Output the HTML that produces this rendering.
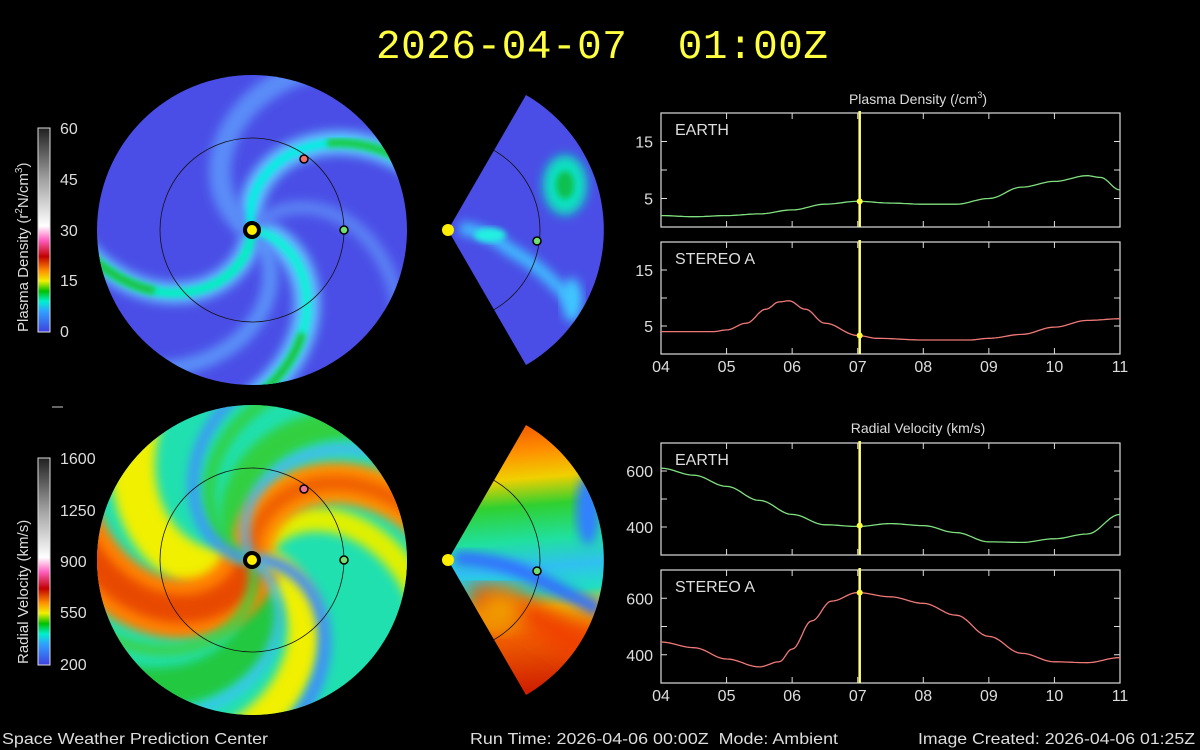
<!DOCTYPE html>
<html><head><meta charset="utf-8">
<style>
html,body{margin:0;padding:0;background:#000;width:1200px;height:750px;overflow:hidden;}
body{position:relative;font-family:"Liberation Sans",sans-serif;color:#ddd;}
svg{position:absolute;left:0;top:0;display:block;}
text{white-space:pre;}
</style></head>
<body>
<svg id="s" width="1200" height="750" viewBox="0 0 1200 750" xmlns="http://www.w3.org/2000/svg">
<defs>
  <filter id="b6" x="-20%" y="-20%" width="140%" height="140%"><feGaussianBlur stdDeviation="5"/></filter>
  <filter id="b3" x="-20%" y="-20%" width="140%" height="140%"><feGaussianBlur stdDeviation="3"/></filter>
  <filter id="b10" x="-30%" y="-30%" width="160%" height="160%"><feGaussianBlur stdDeviation="10"/></filter>
  <clipPath id="c1"><circle cx="252" cy="230" r="155"/></clipPath>
  <clipPath id="c2"><circle cx="252" cy="560" r="155"/></clipPath>
  <clipPath id="w1"><path d="M448,230 L526,95 A156,156 0 0 1 526,365 Z"/></clipPath>
  <clipPath id="w2"><path d="M448,560 L526,425 A156,156 0 0 1 526,695 Z"/></clipPath>
  <linearGradient id="cbd" x1="0" y1="1" x2="0" y2="0">
    <stop offset="0" stop-color="#4040e0"/><stop offset="0.1" stop-color="#30a0ff"/>
    <stop offset="0.15" stop-color="#00f0d0"/><stop offset="0.2" stop-color="#00c000"/>
    <stop offset="0.25" stop-color="#f0f000"/><stop offset="0.3" stop-color="#ff9000"/>
    <stop offset="0.37" stop-color="#c00000"/><stop offset="0.45" stop-color="#ff60c0"/>
    <stop offset="0.52" stop-color="#ffffff"/><stop offset="0.75" stop-color="#a0a0a0"/>
    <stop offset="1" stop-color="#202020"/>
  </linearGradient>
  <linearGradient id="wv" gradientUnits="userSpaceOnUse" x1="448" y1="425" x2="470" y2="695">
    <stop offset="0" stop-color="#f05000"/><stop offset="0.12" stop-color="#ff9000"/>
    <stop offset="0.22" stop-color="#f0d000"/><stop offset="0.32" stop-color="#30d030"/>
    <stop offset="0.45" stop-color="#20e0a0"/><stop offset="0.55" stop-color="#30c0f0"/>
    <stop offset="0.64" stop-color="#20e0c0"/><stop offset="0.7" stop-color="#f0c000"/>
    <stop offset="0.8" stop-color="#f06000"/><stop offset="1" stop-color="#d02000"/>
  </linearGradient>
</defs>
<g id="g"></g>
</svg>
<script>
var NS="http://www.w3.org/2000/svg",G=document.getElementById('g');
function el(t,a,p){var e=document.createElementNS(NS,t);for(var k in a)e.setAttribute(k,a[k]);(p||G).appendChild(e);return e;}
function txt(x,y,s,a,p){var e=el('text',Object.assign({x:x,y:y,fill:'#ddd','font-family':'Liberation Sans, sans-serif','font-size':15},a),p);e.textContent=s;return e;}
var K=0.47;
function spiral(cx,cy,phi0,k,r1,r0){r0=r0||4;var d='';for(var r=r0;r<=r1;r+=3){var f=(phi0+k*r)*Math.PI/180;d+=(r==r0?'M':'L')+(cx+r*Math.cos(f)).toFixed(1)+','+(cy+r*Math.sin(f)).toFixed(1);}return d;}
// density disc
var g1=el('g',{'clip-path':'url(#c1)'});
el('rect',{x:90,y:70,width:330,height:330,fill:'#4a4ee6'},g1);
[[-103,'#60c0ff',24],[10,'#60c0ff',26],[94,'#60b8ff',22],[-150,'#5a8cf8',22],[-50,'#5a80f4',14],[45,'#5a90f8',16]].forEach(function(a){
 el('path',{d:spiral(252,230,a[0],K,260),stroke:a[1],'stroke-width':a[2],fill:'none',filter:'url(#b6)'},g1);});
[[-103,'#00f0e0',8],[10,'#10f0d8',9],[94,'#00f0c0',9]].forEach(function(a){
 el('path',{d:spiral(252,230,a[0],K,260),stroke:a[1],'stroke-width':a[2],fill:'none',filter:'url(#b3)'},g1);});
[[-103,'#20c840'],[10,'#20c040'],[94,'#20c040']].forEach(function(a){
 el('path',{d:spiral(252,230,a[0],K,175,115),stroke:a[1],'stroke-width':8,fill:'none',filter:'url(#b3)'},g1);});
el('circle',{cx:252,cy:230,r:92,fill:'none',stroke:'#111','stroke-width':0.8});
// velocity disc
var g2=el('g',{'clip-path':'url(#c2)'});
el('rect',{x:90,y:400,width:330,height:330,fill:'#20e0b0'},g2);
var V=[[52,'#20c840',40],[-133,'#30d040',30],[-68,'#e0f000',24],[12,'#f0f000',34],[147,'#f0f000',44],
[105,'#ff8000',60],[105,'#e84800',28],[-96,'#ff9000',42],[-96,'#f06000',16],
[-160,'#30d040',12],[75,'#40d040',10],
[-3,'#4088ff',12],[187,'#4090ff',10],[35,'#40c0ff',8],[-118,'#50b0ff',8]];
V.forEach(function(a){el('path',{d:spiral(252,560,a[0],K,260),stroke:a[1],'stroke-width':a[2],fill:'none',filter:'url(#b6)'},g2);});
el('circle',{cx:252,cy:560,r:92,fill:'none',stroke:'#111','stroke-width':0.8});
// wedges
var w1=el('g',{'clip-path':'url(#w1)'});
el('rect',{x:440,y:90,width:170,height:280,fill:'#4a4ee6'},w1);
el('ellipse',{cx:565,cy:185,rx:22,ry:30,fill:'#10e0c0',filter:'url(#b6)'},w1);
el('ellipse',{cx:565,cy:185,rx:9,ry:14,fill:'#10c050',filter:'url(#b3)'},w1);
el('path',{d:'M460,228 Q490,232 510,250 Q540,265 570,300',stroke:'#40c0ff','stroke-width':12,fill:'none',filter:'url(#b6)'},w1);
el('ellipse',{cx:490,cy:235,rx:16,ry:7,fill:'#20f0e0',filter:'url(#b3)'},w1);
el('ellipse',{cx:572,cy:300,rx:10,ry:22,fill:'#40c8ff',filter:'url(#b6)'},w1);
el('circle',{cx:448,cy:230,r:92,fill:'none',stroke:'#111','stroke-width':0.8,'clip-path':'url(#w1)'});
var w2=el('g',{'clip-path':'url(#w2)'});
el('rect',{x:440,y:420,width:170,height:280,fill:'url(#wv)'},w2);
el('path',{d:'M455,558 Q500,560 530,575 Q570,595 600,610',stroke:'#3070ff','stroke-width':14,fill:'none',filter:'url(#b6)'},w2);
el('path',{d:'M470,600 Q530,600 600,665',stroke:'#f04000','stroke-width':30,fill:'none',filter:'url(#b10)'},w2);
el('ellipse',{cx:588,cy:510,rx:12,ry:35,fill:'#3080ff',filter:'url(#b6)'},w2);
el('ellipse',{cx:500,cy:610,rx:22,ry:18,fill:'#f0a000',filter:'url(#b10)'},w2);
el('circle',{cx:448,cy:560,r:92,fill:'none',stroke:'#111','stroke-width':0.8,'clip-path':'url(#w2)'});
// bodies
[[252,230],[252,560]].forEach(function(p){el('circle',{cx:p[0],cy:p[1],r:7,fill:'#ffee00',stroke:'#000','stroke-width':4});});
el('circle',{cx:448,cy:230,r:6,fill:'#ffee00'});el('circle',{cx:448,cy:560,r:6,fill:'#ffee00'});
[[344,230,'#70e070'],[304,159,'#f07070'],[537,241,'#70e070'],[344,560,'#70e070'],[304,489,'#f07090'],[537,571,'#70e070']].forEach(function(p){
 el('circle',{cx:p[0],cy:p[1],r:4,fill:p[2],stroke:'#000','stroke-width':1.5});});
// colorbars
el('rect',{x:38,y:128,width:12,height:204,fill:'url(#cbd)',stroke:'#ddd','stroke-width':1});
el('rect',{x:38,y:458,width:12,height:207,fill:'url(#cbd)',stroke:'#ddd','stroke-width':1});
[['60',134],['45',185],['30',236],['15',286],['0',337]].forEach(function(t){txt(60,t[1],t[0],{'font-size':16});});
[['1600',464],['1250',516],['900',567],['550',618],['200',670]].forEach(function(t){txt(60,t[1],t[0],{'font-size':16});});
var t1=txt(0,0,'',{'font-size':15,transform:'translate(28,332) rotate(-90)'});t1.innerHTML='Plasma Density (r<tspan dy="-6" font-size="10">2</tspan><tspan dy="6">N/cm</tspan><tspan dy="-6" font-size="10">3</tspan><tspan dy="6">)</tspan>';
txt(0,0,'Radial Velocity (km/s)',{'font-size':15,transform:'translate(28,664) rotate(-90)'});
el('line',{x1:52,y1:407,x2:63,y2:407,stroke:'#ccc','stroke-width':1});
// title & footer
txt(376,58,'2026-04-07  01:00Z',{'font-size':41,fill:'#ffff40','font-family':'Liberation Mono, monospace',textLength:452,lengthAdjust:'spacing'});
txt(2,744,'Space Weather Prediction Center',{'font-size':16,textLength:266,lengthAdjust:'spacingAndGlyphs'});
txt(470,744,'Run Time: 2026-04-06 00:00Z  Mode: Ambient',{'font-size':16,textLength:368,lengthAdjust:'spacingAndGlyphs'});
txt(918,744,'Image Created: 2026-04-06 01:25Z',{'font-size':16,textLength:277,lengthAdjust:'spacingAndGlyphs'});
// line panels
var X0=661,X1=1120,dx=(X1-X0)/7;
function panel(y0,y1,vmin,vmax,ticks,labels,label,data,col,dotv){
 el('rect',{x:X0,y:y0,width:X1-X0,height:y1-y0,fill:'none',stroke:'#ddd','stroke-width':1.2});
 function Y(v){return y1-(v-vmin)/(vmax-vmin)*(y1-y0);}
 ticks.forEach(function(v){var y=Y(v);el('line',{x1:X0,y1:y,x2:X0+6,y2:y,stroke:'#ddd'});el('line',{x1:X1-6,y1:y,x2:X1,y2:y,stroke:'#ddd'});});
 labels.forEach(function(v){txt(X0-8,Y(v)+6,String(v),{'font-size':16,'text-anchor':'end'});});
 for(var i=1;i<7;i++){var x=X0+i*dx;el('line',{x1:x,y1:y1,x2:x,y2:y1-6,stroke:'#ddd'});el('line',{x1:x,y1:y0,x2:x,y2:y0+6,stroke:'#ddd'});}
 txt(X0+14,y0+22,label,{'font-size':16});
 var d='';data.forEach(function(p,i){d+=(i?'L':'M')+(X0+(p[0]-4)*dx).toFixed(1)+','+Y(p[1]).toFixed(1);});
 el('path',{d:d,stroke:col,'stroke-width':1.3,fill:'none','stroke-linejoin':'round'});
 var xl=X0+3.03*dx;el('line',{x1:xl,y1:y0-2,x2:xl,y2:y1,stroke:'#ffff80','stroke-width':2.5});
 el('circle',{cx:xl,cy:Y(dotv),r:3,fill:'#ffff40'});
}
function smooth(pts){var o=[];for(var i=0;i<pts.length-1;i++){var a=pts[i],b=pts[i+1];for(var t=0;t<1;t+=0.1){var s=(1-Math.cos(t*Math.PI))/2;o.push([a[0]+(b[0]-a[0])*t,a[1]+(b[1]-a[1])*s]);}}o.push(pts[pts.length-1]);return o;}
var pd=txt(918,104,'',{'font-size':14,'text-anchor':'middle'});pd.innerHTML='Plasma Density (/cm<tspan dy="-6" font-size="9">3</tspan><tspan dy="6">)</tspan>';
txt(918,433,'Radial Velocity (km/s)',{'font-size':14,'text-anchor':'middle'});
panel(113,227,0,20,[5,10,15],[5,15],'EARTH',smooth([[4,2],[4.5,1.8],[5,2],[5.5,2.3],[6,3],[6.5,4],[7,4.5],[7.5,4.2],[8,4],[8.5,4],[9,5],[9.5,7],[10,8],[10.5,9],[10.7,8.7],[11,6.5]]),'#80e080',4.5);
panel(242,354,0,20,[5,10,15],[5,15],'STEREO A',smooth([[4,4],[4.8,4],[5,4.3],[5.3,5.5],[5.6,8],[5.8,9.3],[5.95,9.5],[6.2,8],[6.5,5.5],[7,3.3],[7.3,2.8],[8,2.5],[8.7,2.5],[9,2.8],[9.5,3.5],[10,4.8],[10.5,6],[11,6.3]]),'#f07878',3.3);
panel(443,555,300,700,[400,500,600],[400,600],'EARTH',smooth([[4,610],[4.5,585],[5,545],[5.5,495],[6,445],[6.5,408],[7,402],[7.5,412],[8,405],[8.5,380],[9,347],[9.5,345],[10,358],[10.5,375],[11,445]]),'#80e080',405);
panel(570,683,300,700,[400,500,600],[400,600],'STEREO A',smooth([[4,445],[4.5,425],[5,385],[5.5,357],[5.8,375],[6,420],[6.3,520],[6.6,590],[7,620],[7.5,605],[8,582],[8.5,540],[9,465],[9.5,405],[10,375],[10.5,372],[11,390]]),'#f07878',620);
for(var i=0;i<8;i++){var x=X0+i*dx,s=(i+4<10?'0':'')+(i+4);txt(x,372,s,{'font-size':16,'text-anchor':'middle'});txt(x,701,s,{'font-size':16,'text-anchor':'middle'});}
</script>
</body></html>
